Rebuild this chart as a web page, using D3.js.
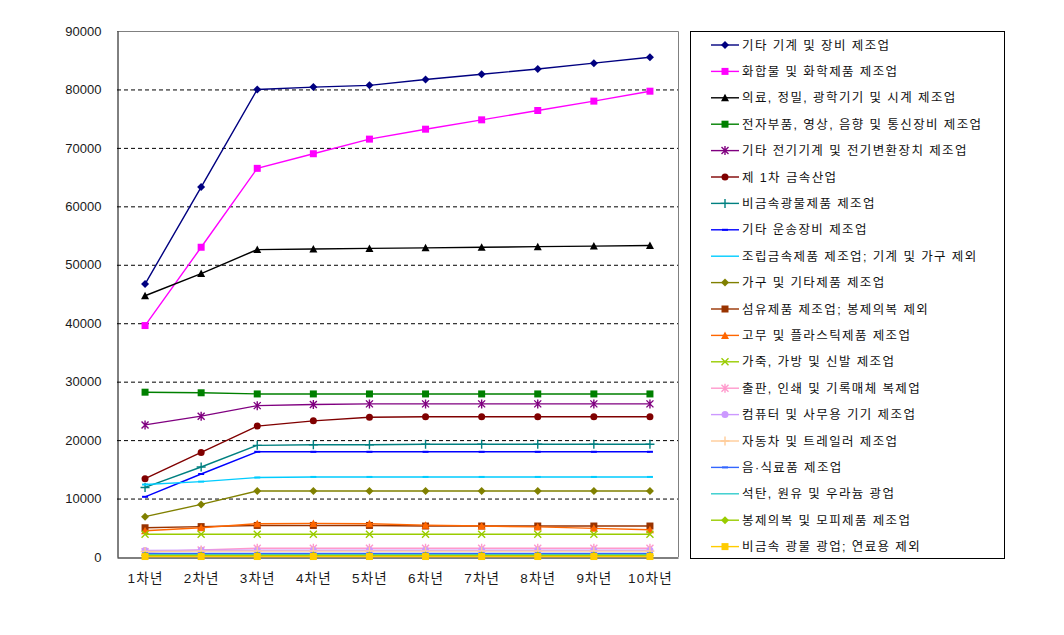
<!DOCTYPE html>
<html><head><meta charset="utf-8">
<script src="https://cdn.jsdelivr.net/npm/d3@7/dist/d3.min.js"></script>
<style>
body{margin:0;background:#fff;}
svg text{font-family:"Liberation Sans","Noto Sans CJK KR",Arial,sans-serif;}
</style></head>
<body><svg id="c" width="1064" height="635"></svg>
<script>
const categories = ["1차년","2차년","3차년","4차년","5차년","6차년","7차년","8차년","9차년","10차년"];
const yTicks = [0,10000,20000,30000,40000,50000,60000,70000,80000,90000];
const seriesNames = [
 "기타 기계 및 장비 제조업","화합물 및 화학제품 제조업","의료, 정밀, 광학기기 및 시계 제조업",
 "전자부품, 영상, 음향 및 통신장비 제조업","기타 전기기계 및 전기변환장치 제조업","제 1차 금속산업",
 "비금속광물제품 제조업","기타 운송장비 제조업","조립금속제품 제조업; 기계 및 가구 제외",
 "가구 및 기타제품 제조업","섬유제품 제조업; 봉제의복 제외","고무 및 플라스틱제품 제조업",
 "가죽, 가방 및 신발 제조업","출판, 인쇄 및 기록매체 복제업","컴퓨터 및 사무용 기기 제조업",
 "자동차 및 트레일러 제조업","음·식료품 제조업","석탄, 원유 및 우라늄 광업",
 "봉제의복 및 모피제품 제조업","비금속 광물 광업; 연료용 제외"];
const s1  = [46700,63300,80000,80400,80700,81700,82600,83500,84500,85500];
const s2  = [39600,53000,66500,69000,71500,73200,74800,76400,78000,79700];
const s3  = [44700,48500,52600,52700,52800,52900,53000,53100,53200,53300];
const s4  = [28200,28100,27900,27900,27900,27900,27900,27900,27900,27900];
const s5  = [22600,24100,25900,26100,26200,26200,26200,26200,26200,26200];
const s6  = [13400,17900,22400,23300,23900,24000,24000,24000,24000,24000];
const s7  = [11900,15400,19100,19200,19200,19300,19300,19300,19300,19300];
const s8  = [10300,14200,18000,18000,18000,18000,18000,18000,18000,18000];
const s9  = [12400,12900,13600,13700,13700,13700,13700,13700,13700,13700];
const s10 = [6900,9000,11300,11300,11300,11300,11300,11300,11300,11300];
const s11 = [5000,5200,5400,5400,5400,5300,5300,5300,5300,5300];
const s12 = [4500,5000,5700,5750,5700,5450,5300,5150,4900,4650];
const s13 = [3900,3900,3900,3900,3900,3900,3900,3900,3900,3900];
const s14 = [900,1200,1500,1500,1500,1500,1500,1500,1500,1500];
const s15 = [1100,1150,1150,1150,1150,1150,1150,1150,1150,1150];
const s16 = [950,1000,1000,1000,1000,1000,1000,1000,1000,1000];
const s17 = [600,600,600,600,600,600,600,600,600,600];
const s18 = [400,400,400,400,400,400,400,400,400,400];
const s19 = [250,250,250,250,250,250,250,250,250,250];
const s20 = [80,80,80,80,80,80,80,80,80,80];
const seriesValues = [s1,s2,s3,s4,s5,s6,s7,s8,s9,s10,s11,s12,s13,s14,s15,s16,s17,s18,s19,s20];
const seriesColors = ["#000080","#FF00FF","#000000","#008000","#800080","#800000","#008080","#0000FF","#00CCFF",
 "#808000","#993300","#FF6600","#99CC00","#FF99CC","#CC99FF","#FFCC99","#3366FF","#33CCCC","#99CC00","#FFCC00"];
const seriesMarkers = ["diamond","square","triangle","square","asterisk","circle","plus","dash","dashsmall",
 "diamond","square","triangle","x","asterisk","circle","plus","dash","none","diamond","square"];

const svg = d3.select("#c");
const L=117, R=678, T=31, B=557;
const x = d3.scalePoint().domain(categories).range([L,R]).padding(0.5);
const y = d3.scaleLinear().domain([0,90000]).range([B,T]);

// gridlines
svg.append("g").selectAll("line").data(yTicks.filter(d=>d>0 && d<90000)).join("line")
 .attr("x1",L).attr("x2",R).attr("y1",d=>y(d)+0.5).attr("y2",d=>y(d)+0.5)
 .attr("stroke","#000").attr("stroke-dasharray","4,3").attr("stroke-width",1);
// border top & right
svg.append("path").attr("d",`M${L},${T+0.5}H${R+0.5}V${B}`).attr("fill","none").attr("stroke","#808080");

// axes
const yAxis = d3.axisLeft(y).tickValues(yTicks).tickSize(0).tickPadding(16).tickFormat(d3.format("d"));
const gy = svg.append("g").attr("transform",`translate(${L+0.5},0)`).call(yAxis);
gy.select(".domain").attr("stroke","#000");
gy.selectAll("text").attr("font-size",13).attr("fill","#1a1a1a");
const xAxis = d3.axisBottom(x).tickSize(0).tickPadding(16);
const gx = svg.append("g").attr("transform",`translate(0,${B+0.5})`).call(xAxis);
gx.select(".domain").attr("stroke","#000");
gx.selectAll("text").attr("font-size",13.5).attr("letter-spacing","1.2px").attr("fill","#1a1a1a");

function marker(type, s){
  const h=s/2;
  switch(type){
    case "diamond": return `M0,${-h-0.5}L${h+0.5},0L0,${h+0.5}L${-h-0.5},0Z`;
    case "square": return `M${-h},${-h}h${s}v${s}h${-s}Z`;
    case "triangle": return `M0,${-h-0.5}L${h+0.5},${h}L${-h-0.5},${h}Z`;
    case "circle": return d3.symbol(d3.symbolCircle, Math.PI*h*h)();
    case "asterisk": return `M${-h},${-h}L${h},${h}M${-h},${h}L${h},${-h}M0,${-h-1}V${h+1}`;
    case "x": return `M${-h},${-h}L${h},${h}M${-h},${h}L${h},${-h}`;
    case "plus": return `M${-h-1},0H${h+1}M0,${-h-1}V${h+1}`;
    case "dash": return `M${-h+0.5},-1h${s-1}v2h${-(s-1)}Z`;
    case "dashsmall": return `M${-h+0.5},-1h${s-1}v2h${-(s-1)}Z`;
    default: return "";
  }
}
const filled = t => ["diamond","square","triangle","circle","dash","dashsmall"].includes(t);

const line = d3.line().x((d,i)=>x(categories[i])).y(d=>y(d));
seriesValues.forEach((vals,k)=>{
  const g = svg.append("g");
  g.append("path").attr("d",line(vals)).attr("fill","none").attr("stroke",seriesColors[k]).attr("stroke-width",1.4);
  const mt = seriesMarkers[k];
  if(mt!=="none"){
    g.selectAll("path.m").data(vals).join("path").attr("class","m")
     .attr("transform",(d,i)=>`translate(${x(categories[i])},${y(d)})`)
     .attr("d",marker(mt,7))
     .attr("fill",filled(mt)?seriesColors[k]:"none")
     .attr("stroke",seriesColors[k]).attr("stroke-width",filled(mt)?0:1.4);
  }
});

// legend
svg.append("rect").attr("x",690.5).attr("y",31.5).attr("width",314).attr("height",527)
 .attr("fill","#fff").attr("stroke","#000").attr("stroke-width",1);
const lg = svg.append("g");
seriesNames.forEach((name,k)=>{
  const yy = 45 + k*26.4;
  const g = lg.append("g").attr("transform",`translate(0,${yy})`);
  g.append("line").attr("x1",711).attr("x2",739).attr("y1",0).attr("y2",0).attr("stroke",seriesColors[k]).attr("stroke-width",1.4);
  const mt = seriesMarkers[k]==="dashsmall" ? "none" : seriesMarkers[k];
  if(mt!=="none"){
    g.append("path").attr("transform","translate(725,0)").attr("d",marker(mt,7))
     .attr("fill",filled(mt)?seriesColors[k]:"none")
     .attr("stroke",seriesColors[k]).attr("stroke-width",filled(mt)?0:1.4);
  }
  g.append("text").attr("x",742).attr("y",0).attr("dy","0.36em").attr("font-size",12.5)
   .attr("letter-spacing","1.4px").attr("fill","#111").text(name);
});
</script></body></html>
